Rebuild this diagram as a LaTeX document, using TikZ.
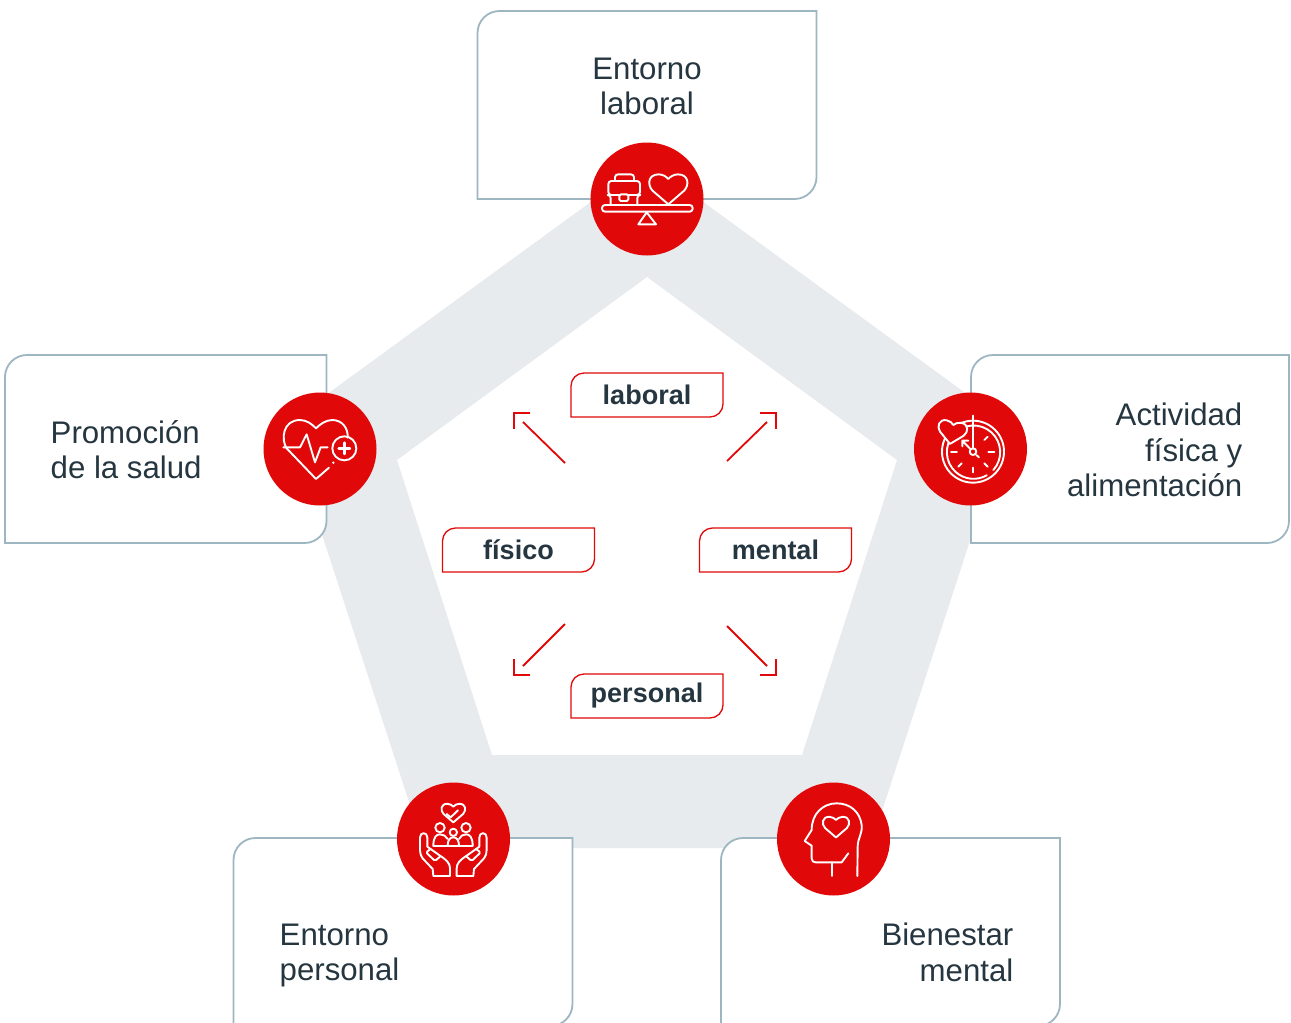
\documentclass[tikz,border=0pt]{standalone}
\usepackage{fontspec}
\setmainfont{Liberation Sans}
\usepackage{xcolor}
\usetikzlibrary{positioning}
\definecolor{redc}{HTML}{E00808}
\definecolor{greyc}{HTML}{E8EBEE}
\definecolor{edgec}{HTML}{9DB6C1}
\definecolor{textc}{HTML}{263640}
\newcommand{\leafoutline}[3]{\draw[#1] (#2.south west) [rounded corners=#3] -- (#2.north west) [sharp corners] -- (#2.north east) [rounded corners=#3] -- (#2.south east) [sharp corners] -- cycle;}
\tikzset{
  bigbox/.style={inner sep=0,outer sep=0},
  bigline/.style={draw=edgec,fill=white,line width=1.8},
  bigtext/.style={text=textc,font=\fontsize{31.2}{35.5}\selectfont,inner sep=0},
  tag/.style={inner sep=0,outer sep=0,minimum width=152,minimum height=44,text=textc,font=\fontsize{27}{30}\selectfont\bfseries},
  tagline/.style={draw=redc,line width=1.3},
  badge/.style={circle,fill=redc,minimum size=113,inner sep=0},
  iconline/.style={draw=white,line width=1.9,line cap=round,line join=round},
  zoomed/.style={shift={#1},x=0.33333pt,y=-0.33333pt},
  pics/heartline/.style={code={
    \draw[iconline,fill=redc] (0,1.31) -- (-0.82,0.6) .. controls (-1.1,0.3) and (-1.05,-0.24) .. (-0.5,-0.24) .. controls (-0.28,-0.24) and (-0.1,-0.12) .. (0,0) .. controls (0.1,-0.12) and (0.28,-0.24) .. (0.5,-0.24) .. controls (1.05,-0.24) and (1.1,0.3) .. (0.82,0.6) -- cycle;
  }}
}
\begin{document}
\begin{tikzpicture}[x=1pt,y=-1pt]
\useasboundingbox (0,0) rectangle (1291,1023);
\clip (0,0) rectangle (1291,1023);
% pentagon
\fill[greyc,even odd rule] (647,161) -- (1008,424) -- (870,848) -- (424,848) -- (286,424) -- cycle
  (647,277) -- (897,460) -- (802,755) -- (492,755) -- (397,460) -- cycle;
% boxes
\node[bigbox,minimum width=339,minimum height=188] (boxlaboral) at (647,105) {};
\node[bigbox,minimum width=321.5,minimum height=188] (boxsalud) at (165.75,449) {};
\node[bigbox,minimum width=318,minimum height=188] (boxfisica) at (1130,449) {};
\node[bigbox,minimum width=339,minimum height=188] (boxpersonal) at (403,932) {};
\node[bigbox,minimum width=339,minimum height=188] (boxmental) at (890.5,932) {};
\foreach \nm in {boxlaboral,boxsalud,boxfisica,boxpersonal,boxmental} {
  \leafoutline{bigline}{\nm}{22}
}
% texts
\node[bigtext,align=center] (txtlaboral) at (647,86.5) {Entorno\\laboral};
\node[bigtext,align=left,anchor=west] (txtsalud) at (50.5,449.5) {Promoción\\de la salud};
\node[bigtext,align=right,anchor=east] (txtfisica) at (1242.5,450) {Actividad\\física y\\alimentación};
\node[bigtext,align=left,anchor=west] (txtpersonal) at (279.5,955.5) {Entorno\\personal};
\node[bigtext,align=right,anchor=east] (txtmental) at (1013.5,952.5) {Bienestar\\mental};
% tags
\node[tag] (taglaboral) at (647,395) {laboral};
\node[tag] (tagfisico) at (518.5,550) {físico};
\node[tag] (tagmental) at (775.5,550) {mental};
\node[tag] (tagpersonal) at (647,696) {personal};
\foreach \nm in {taglaboral,tagfisico,tagmental,tagpersonal} {
  \leafoutline{tagline}{\nm}{13}
}
% arrows
\foreach \nm/\fx/\fy/\tx/\ty/\cx/\cy/\dx/\dy in {
  ul/565/463/523/422/514/413/16/16,
  ur/727/461/767/422/776/413/-16/16,
  ll/565/624/523/666/514/675/16/-16,
  lr/727/626/767/666/776/675/-16/-16} {
  \coordinate (from\nm) at (\fx,\fy);
  \coordinate (to\nm) at (\tx,\ty);
  \coordinate (tip\nm) at (\cx,\cy);
  \draw[redc,line width=1.8] (from\nm) -- (to\nm);
  \draw[redc,line width=1.3] ([xshift=\dx]tip\nm) -- (tip\nm) -- ([yshift=-\dy]tip\nm);
}
% badges
\node[badge] (badgelaboral) at (647,199) {};
\node[badge] (badgesalud) at (320,449) {};
\node[badge] (badgefisica) at (970.5,449) {};
\node[badge] (badgepersonal) at (453.5,839) {};
\node[badge] (badgemental) at (833.5,839) {};
% balance
\begin{scope}[zoomed={(580,135)}]
  \draw[iconline,rounded corners=3] (66,210) rectangle (338,230);
  \draw[iconline] (200,232) -- (228,268) -- (175,268) -- cycle;
  \draw[iconline,rounded corners=3] (92,210) -- (92,180) -- (85,180) -- (85,138) -- (180,138) -- (180,180) -- (172,180) -- (172,210);
  \draw[iconline,rounded corners=3] (105,138) -- (105,118) -- (162,118) -- (162,138);
  \draw[iconline] (85,180) -- (118,180) (145,180) -- (180,180);
  \draw[iconline,rounded corners=1.5] (118,178) rectangle (145,198);
  \pic[scale=58] at (265,132) {heartline};
\end{scope}
% heart with pulse
\begin{scope}[zoomed={(255,385)}]
  \draw[iconline] (95,190) .. controls (78,165) and (82,105) .. (135,105) .. controls (155,105) and (172,118) .. (183,130) .. controls (195,118) and (212,105) .. (232,105) .. controls (262,105) and (280,130) .. (278,158);
  \draw[iconline] (95,190) -- (183,282) -- (222,248);
  \fill[white] (235,233) circle[radius=4];
  \draw[iconline] (85,187) -- (135,187) -- (155,148) -- (180,232) -- (197,187) -- (218,187);
  \draw[iconline] (268,190) circle[radius=36];
  \draw[iconline,line width=2.4] (251,190) -- (285,190) (268,173) -- (268,207);
\end{scope}
% clock
\begin{scope}[zoomed={(905,385)}]
  \draw[iconline] (204,200) circle[radius=93];
  \draw[iconline] (265,255) arc[start angle=42,end angle=-300,radius=80];
  \pic[scale=44,rotate=-10] at (145,120) {heartline};
  \draw[iconline] (204,92) -- (204,190);
  \draw[iconline] (204,200) circle[radius=10];
  \draw[iconline] (196,192) -- (172,167) (172,184) -- (172,167) -- (190,167);
  \draw[iconline] (214,210) -- (222,217);
  \draw[iconline] (250,200) -- (268,200) (138,200) -- (156,200) (204,248) -- (204,262);
  \draw[iconline] (238,165) -- (248,155) (238,235) -- (248,245) (170,235) -- (160,245);
\end{scope}
% hands
\begin{scope}[zoomed={(390,775)}]
  \pic[scale=36] at (190,95) {heartline};
  \draw[iconline] (170,117) -- (182,127) -- (204,106);
  \draw[iconline] (150,158) circle[radius=14] (228,158) circle[radius=14] (190,172) circle[radius=11];
  \draw[iconline] (130,212) -- (248,212);
  \draw[iconline] (130,212) .. controls (130,185) and (140,178) .. (150,178) .. controls (160,178) and (168,183) .. (173,192);
  \draw[iconline] (248,212) .. controls (248,185) and (238,178) .. (228,178) .. controls (218,178) and (212,183) .. (207,192);
  \draw[iconline] (173,212) .. controls (173,195) and (180,187) .. (190,187) .. controls (200,187) and (207,195) .. (207,212);
  \foreach \sx/\ox in {1/0,-1/380} {
    \begin{scope}[shift={(\ox,0)},x=\sx*0.33333pt]
      \draw[iconline] (130,303) -- (128,282) -- (98,250) .. controls (92,240) and (90,235) .. (90,225) -- (90,188) .. controls (90,170) and (112,170) .. (112,188) -- (112,215) -- (150,242) .. controls (170,255) and (180,265) .. (180,280) -- (180,303) -- cycle;
      \draw[iconline,rounded corners=1.5] (122,222) -- (108,232) -- (135,258) -- (150,245);
    \end{scope}
  }
\end{scope}
% head
\begin{scope}[zoomed={(770,775)}]
  \draw[iconline] (262,303) -- (263,215) .. controls (263,190) and (278,175) .. (275,150) .. controls (270,110) and (240,85) .. (200,85) .. controls (160,85) and (125,115) .. (125,165) -- (104,198) -- (125,212) -- (125,250) .. controls (125,258) and (130,262) .. (137,262) -- (215,262) -- (235,235);
  \draw[iconline] (185,262) -- (185,303);
  \pic[scale=40] at (198,135) {heartline};
\end{scope}
\end{tikzpicture}
\end{document}
